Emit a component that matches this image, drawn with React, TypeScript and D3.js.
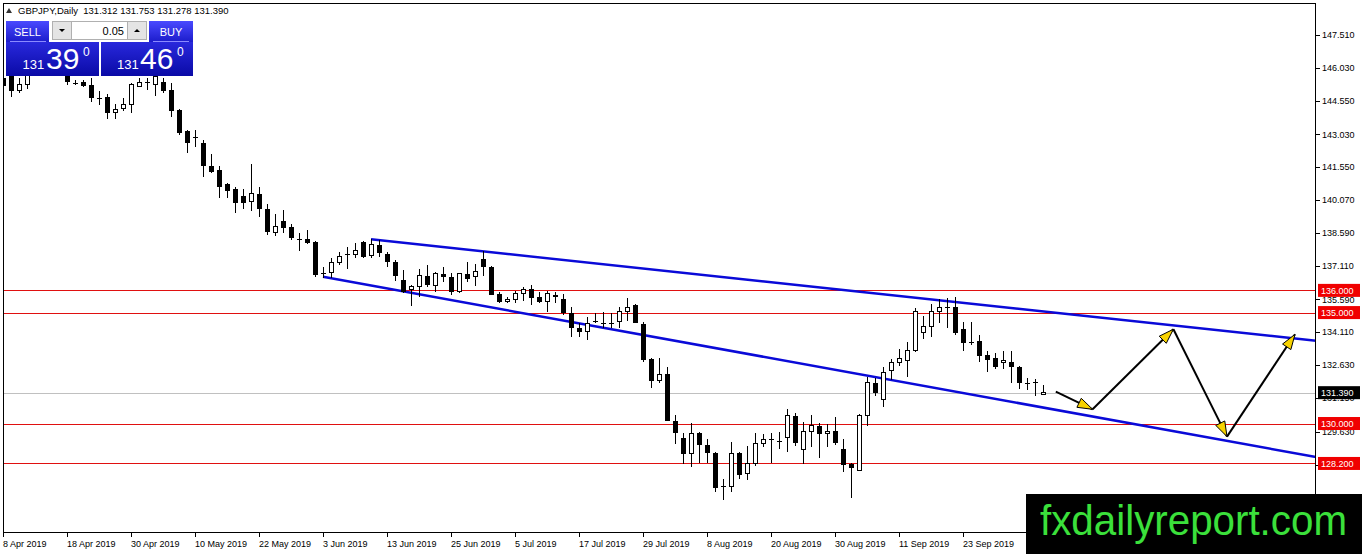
import * as d3 from "d3";

// GBPJPY daily bars, 8 Apr 2019 onwards
const openP = [
  145.57, 145.66, 144.99, 145.26, 145.85, 146.25, 146.1, 146.4, 145.7, 145.35,
  145.39, 145.26, 144.67, 144.72, 144.0, 144.18, 144.4, 145.21, 145.35, 145.3,
  145.39, 145.03, 144.13, 143.19, 142.9, 142.65, 141.61, 141.43, 140.8, 140.57,
  140.26, 139.99, 140.35, 139.67, 138.63, 139.13, 138.86, 138.32, 138.32, 138.18,
  136.78, 136.79, 137.24, 137.6, 137.6, 138.18, 137.55, 138.05, 137.64, 137.28,
  136.47, 136.02, 136.16, 136.65, 136.2, 136.74, 136.61, 135.93, 136.74, 136.61,
  137.42, 137.06, 135.84, 135.48, 135.61, 135.88, 136.06, 135.7, 135.52, 135.79,
  135.61, 134.98, 134.31, 134.13, 134.62, 134.53, 134.55, 134.62, 135.03, 135.34,
  134.49, 132.91, 131.96, 132.23, 130.12, 129.35, 128.63, 129.57, 129.03, 128.67,
  127.18, 127.14, 128.67, 127.73, 128.18, 129.12, 129.26, 129.21, 129.35, 130.34,
  128.85, 129.62, 129.89, 129.53, 129.66, 128.85, 128.18, 127.86, 130.34, 131.83,
  131.06, 132.37, 132.77, 132.82, 133.27, 134.08, 134.35, 135.07, 135.24, 135.25,
  134.26, 133.68, 133.72, 133.09, 132.96, 132.73, 132.77, 132.55, 131.83, 131.87,
  131.312,
];
const highP = [
  145.75, 145.94, 145.57, 146.0, 146.45, 146.7, 146.6, 146.62, 145.8, 145.48,
  145.48, 145.57, 144.99, 144.85, 144.4, 144.67, 145.35, 145.57, 145.57, 145.85,
  145.57, 145.35, 144.18, 143.23, 143.23, 142.78, 142.15, 141.61, 140.82, 140.66,
  140.57, 141.7, 140.66, 139.9, 139.45, 139.63, 138.99, 138.59, 138.72, 138.23,
  137.06, 137.46, 137.73, 137.96, 138.14, 138.23, 138.32, 138.27, 137.73, 137.37,
  136.92, 136.25, 136.97, 137.15, 136.83, 137.06, 136.79, 136.79, 137.28, 137.19,
  137.78, 137.1, 135.93, 135.7, 135.97, 136.16, 136.25, 135.93, 135.97, 135.93,
  135.84, 135.25, 134.53, 134.8, 134.98, 135.03, 134.98, 135.25, 135.66, 135.39,
  134.58, 132.96, 132.96, 132.55, 130.39, 129.57, 130.03, 129.6, 129.3, 128.7,
  127.5, 129.17, 128.72, 128.99, 129.57, 129.53, 129.57, 129.62, 130.66, 130.48,
  130.07, 130.39, 130.03, 129.98, 130.3, 129.3, 128.2, 130.43, 132.1, 132.05,
  132.55, 132.91, 133.36, 133.68, 135.21, 134.85, 135.39, 135.61, 135.66, 135.7,
  134.58, 134.58, 133.99, 133.27, 133.18, 133.27, 133.27, 132.57, 132.05, 132.01,
  131.753,
];
const lowP = [
  145.03, 144.72, 144.9, 145.08, 145.78, 145.95, 145.92, 145.8, 145.26, 145.26,
  145.17, 144.49, 144.36, 143.73, 143.73, 144.09, 144.0, 145.17, 145.03, 144.76,
  144.9, 143.82, 143.01, 142.19, 142.46, 141.11, 141.29, 140.17, 140.17, 139.49,
  139.67, 139.58, 139.31, 138.5, 138.45, 138.59, 138.27, 137.78, 138.09, 136.61,
  136.56, 136.56, 137.15, 136.97, 137.46, 137.46, 137.46, 137.51, 137.06, 136.43,
  135.88, 135.3, 135.7, 136.16, 135.93, 136.38, 135.79, 135.88, 136.38, 136.2,
  136.65, 135.79, 135.43, 135.43, 135.43, 135.52, 135.34, 135.43, 135.03, 135.43,
  134.89, 133.9, 133.9, 133.77, 134.53, 134.31, 134.31, 134.31, 134.62, 134.53,
  132.77, 131.6, 131.83, 130.1, 129.08, 128.18, 128.04, 128.22, 128.22, 126.92,
  126.55, 126.92, 127.5, 127.46, 128.09, 128.94, 128.22, 128.85, 128.72, 128.99,
  128.18, 128.94, 128.45, 128.94, 129.03, 127.82, 126.65, 127.84, 129.89, 131.24,
  130.75, 131.96, 132.59, 132.1, 133.22, 133.81, 133.9, 134.53, 134.31, 133.99,
  133.27, 133.54, 132.77, 132.32, 132.46, 132.46, 131.83, 131.56, 131.51, 131.24,
  131.278,
];
const closeP = [
  145.21, 144.99, 145.26, 145.85, 146.25, 146.1, 146.4, 145.86, 145.39, 145.33,
  145.21, 144.67, 144.65, 144.0, 144.13, 144.4, 145.26, 145.35, 145.37, 145.62,
  144.99, 144.09, 143.1, 142.65, 142.92, 141.61, 141.34, 140.66, 140.48, 139.94,
  139.94, 140.35, 139.67, 138.63, 138.9, 138.81, 138.36, 138.3, 138.14, 136.7,
  136.8, 137.24, 137.51, 137.62, 137.78, 137.51, 138.05, 137.69, 137.28, 136.65,
  135.93, 136.16, 136.65, 136.25, 136.74, 136.61, 135.93, 136.74, 136.52, 136.83,
  137.06, 135.79, 135.48, 135.61, 135.84, 136.06, 135.66, 135.48, 135.88, 135.7,
  134.98, 134.31, 134.13, 134.53, 134.6, 134.55, 134.53, 135.03, 135.25, 134.53,
  132.86, 131.92, 132.23, 130.12, 129.57, 128.63, 129.53, 129.03, 128.67, 127.1,
  127.2, 128.67, 127.68, 128.22, 129.12, 129.3, 129.28, 129.23, 130.34, 129.12,
  129.62, 129.89, 129.53, 129.66, 129.12, 128.13, 128.0, 130.34, 131.83, 131.38,
  132.32, 132.77, 132.91, 133.27, 135.07, 134.35, 135.07, 135.21, 135.26, 134.08,
  133.63, 133.66, 133.05, 132.86, 132.55, 132.86, 132.55, 131.83, 131.81, 131.85,
  131.39,
];

const dateLabels = [
  "8 Apr 2019", "18 Apr 2019", "30 Apr 2019", "10 May 2019", "22 May 2019",
  "3 Jun 2019", "13 Jun 2019", "25 Jun 2019", "5 Jul 2019", "17 Jul 2019",
  "29 Jul 2019", "8 Aug 2019", "20 Aug 2019", "30 Aug 2019", "11 Sep 2019",
  "23 Sep 2019",
];
const labelEvery = 8; // bars between date labels

const priceTicks = [
  147.51, 146.03, 144.55, 143.03, 141.55, 140.07, 138.59, 137.11, 135.59,
  134.11, 132.63, 131.15, 129.63, 128.15, 126.67,
];
const levels = [136.0, 135.0, 130.0, 128.2];
const lastPrice = 131.39;

// channel anchors (bar index, price)
const upperChannel = [
  { bar: 46, price: 138.3 },
  { bar: 164.1, price: 133.73 },
];
const lowerChannel = [
  { bar: 40, price: 136.61 },
  { bar: 164.1, price: 128.49 },
];
// forecast zig-zag drawn with arrows
const forecast = [
  { bar: 131.6, price: 131.44 },
  { bar: 136.2, price: 130.64 },
  { bar: 146.3, price: 134.25 },
  { bar: 153.0, price: 129.41 },
  { bar: 161.5, price: 134.02 },
];

const W = 1362;
const H = 554;
const plot = { left: 3, top: 3, right: 1316, bottom: 533 };
const font = "'Liberation Sans', Arial, sans-serif";

function ArrowHead({ x1, y1, x2, y2 }: { x1: number; y1: number; x2: number; y2: number }) {
  const a = Math.atan2(y2 - y1, x2 - x1);
  const len = 15;
  const hw = 5;
  const bx = x2 - len * Math.cos(a);
  const by = y2 - len * Math.sin(a);
  const px = -Math.sin(a) * hw;
  const py = Math.cos(a) * hw;
  const pts = `${x2},${y2} ${bx + px},${by + py} ${bx - px},${by - py}`;
  return <polygon points={pts} fill="#f7d200" stroke="#000" strokeWidth={1} />;
}

export default function App() {
  const x = d3.scaleLinear().domain([0, 130]).range([3, 1043]);
  const y = d3.scaleLinear().domain([147.51, 131.15]).range([35, 398]);
  const bars = d3.range(openP.length);

  const ray = (pts: { bar: number; price: number }[]) => {
    const f = d3.scaleLinear().domain([pts[0].bar, pts[1].bar]).range([pts[0].price, pts[1].price]);
    const endBar = x.invert(plot.right);
    return { x1: x(pts[0].bar), y1: y(pts[0].price), x2: x(endBar), y2: y(f(endBar)) };
  };
  const up = ray(upperChannel);
  const lo = ray(lowerChannel);

  const fc = forecast.map((d) => [x(d.bar), y(d.price)]);

  return (
    <svg
      width={W}
      height={H}
      style={{ position: "absolute", left: 0, top: 0, fontFamily: font }}
    >
      <defs>
        <linearGradient id="btn" x1="0" y1="0" x2="0" y2="1">
          <stop offset="0" stopColor="#4a4aff" />
          <stop offset="1" stopColor="#1a1ac8" />
        </linearGradient>
        <linearGradient id="px" x1="0" y1="0" x2="0" y2="1">
          <stop offset="0" stopColor="#2828dc" />
          <stop offset="1" stopColor="#0a0aa6" />
        </linearGradient>
        <clipPath id="plotClip">
          <rect x={plot.left} y={plot.top} width={plot.right - plot.left} height={plot.bottom - plot.top} />
        </clipPath>
      </defs>
      <rect width={W} height={H} fill="#fff" />

      <g clipPath="url(#plotClip)">
        {/* horizontal levels */}
        {levels.map((l) => (
          <line key={l} x1={plot.left} x2={plot.right} y1={Math.round(y(l)) + 0.5} y2={Math.round(y(l)) + 0.5} stroke="#e01010" strokeWidth={1} />
        ))}
        <line x1={plot.left} x2={plot.right} y1={Math.round(y(lastPrice)) + 0.5} y2={Math.round(y(lastPrice)) + 0.5} stroke="#c0c0c0" strokeWidth={1} />

        {/* channel */}
        <line {...up} stroke="#0a0ad8" strokeWidth={2.5} />
        <line {...lo} stroke="#0a0ad8" strokeWidth={2.5} />

        {/* candles */}
        <g shapeRendering="crispEdges">
          {bars.map((i) => {
            const cx = Math.round(x(i)) + 0.5;
            const o = openP[i];
            const c = closeP[i];
            const top = y(Math.max(o, c));
            const bot = y(Math.min(o, c));
            const bear = c < o;
            return (
              <g key={i}>
                <line x1={cx} x2={cx} y1={y(highP[i])} y2={y(lowP[i])} stroke="#000" strokeWidth={1} />
                {bot - top < 1.5 ? (
                  <line x1={cx - 2.5} x2={cx + 2.5} y1={Math.round(top) + 0.5} y2={Math.round(top) + 0.5} stroke="#000" strokeWidth={1} />
                ) : bear ? (
                  <rect x={cx - 2.5} y={top} width={5} height={bot - top} fill="#000" />
                ) : (
                  <rect x={cx - 2} y={top} width={4} height={bot - top} fill="#fff" stroke="#000" strokeWidth={1} />
                )}
              </g>
            );
          })}
        </g>

        {/* forecast arrows */}
        {fc.slice(1).map((p, k) => (
          <line key={"l" + k} x1={fc[k][0]} y1={fc[k][1]} x2={p[0]} y2={p[1]} stroke="#000" strokeWidth={2} />
        ))}
        {fc.slice(1).map((p, k) => (
          <ArrowHead key={"h" + k} x1={fc[k][0]} y1={fc[k][1]} x2={p[0]} y2={p[1]} />
        ))}
      </g>

      {/* frame */}
      <rect
        x={plot.left + 0.5}
        y={plot.top + 0.5}
        width={plot.right - plot.left - 1}
        height={plot.bottom - plot.top - 1}
        fill="none"
        stroke="#000"
        strokeWidth={1}
        shapeRendering="crispEdges"
      />

      {/* price axis */}
      {priceTicks.map((t) => (
        <g key={t}>
          <line x1={plot.right} x2={plot.right + 4} y1={Math.round(y(t)) + 0.5} y2={Math.round(y(t)) + 0.5} stroke="#000" />
          <text x={plot.right + 6} y={y(t)} dy="0.35em" fontSize={9} fill="#000">
            {t.toFixed(3)}
          </text>
        </g>
      ))}
      {levels.map((l) => (
        <g key={"lab" + l}>
          <rect x={plot.right + 2} y={y(l) - 6.5} width={42} height={13} fill="#f00000" />
          <text x={plot.right + 5} y={y(l)} dy="0.35em" fontSize={9} fill="#fff">
            {l.toFixed(3)}
          </text>
        </g>
      ))}
      <rect x={plot.right + 2} y={y(lastPrice) - 6.5} width={42} height={13} fill="#000" />
      <text x={plot.right + 5} y={y(lastPrice)} dy="0.35em" fontSize={9} fill="#fff">
        {lastPrice.toFixed(3)}
      </text>

      {/* time axis */}
      {dateLabels.map((d, k) => {
        const tx = Math.round(x(k * labelEvery)) + 0.5;
        return (
          <g key={d}>
            <line x1={tx} x2={tx} y1={plot.bottom} y2={plot.bottom + 4} stroke="#000" />
            <text x={tx - 0.5} y={547} fontSize={9} fill="#000">
              {d}
            </text>
          </g>
        );
      })}

      {/* header */}
      <path d="M6,13 L12,13 L9,8 Z" fill="#333" />
      <text x={18} y={14} fontSize={9.5} fill="#000" xmlSpace="preserve">
        {"GBPJPY,Daily  131.312 131.753 131.278 131.390"}
      </text>

      {/* one-click trading panel */}
      <rect x={6} y={21} width={43} height={22} fill="url(#btn)" />
      <rect x={6} y={42} width={93} height={34} fill="url(#px)" />
      <rect x={149} y={21} width={44} height={22} fill="url(#btn)" />
      <rect x={101} y={42} width={92} height={34} fill="url(#px)" />
      <line x1={10} x2={46} y1={41.5} y2={41.5} stroke="#8a8aff" />
      <line x1={153} x2={189} y1={41.5} y2={41.5} stroke="#8a8aff" />
      <text x={27.5} y={36} fontSize={11} fill="#fff" textAnchor="middle">SELL</text>
      <text x={171} y={36} fontSize={11} fill="#fff" textAnchor="middle">BUY</text>
      <rect x={52.5} y={21.5} width={19} height={18} fill="#e4e4e4" stroke="#b0b0b0" />
      <rect x={71.5} y={21.5} width={56} height={18} fill="#fff" stroke="#b0b0b0" />
      <rect x={127.5} y={21.5} width={19} height={18} fill="#e4e4e4" stroke="#b0b0b0" />
      <path d="M59,29 L65,29 L62,32 Z" fill="#000" />
      <path d="M134,32 L140,32 L137,29 Z" fill="#000" />
      <text x={124} y={35} fontSize={11} fill="#000" textAnchor="end">0.05</text>
      <text x={22.5} y={69} fontSize={13} fill="#fff">131</text>
      <text x={46} y={69} fontSize={30} fill="#fff">39</text>
      <text x={83} y={56} fontSize={12} fill="#fff">0</text>
      <text x={117} y={69} fontSize={13} fill="#fff">131</text>
      <text x={140} y={69} fontSize={30} fill="#fff">46</text>
      <text x={177} y={56} fontSize={12} fill="#fff">0</text>

      {/* watermark */}
      <rect x={1026} y={494} width={W - 1026} height={H - 494} fill="#000" />
      <text
        x={1040}
        y={535}
        fontSize={42}
        fill="#3be03b"
        textLength={307}
        lengthAdjust="spacingAndGlyphs"
      >
        fxdailyreport.com
      </text>
    </svg>
  );
}
